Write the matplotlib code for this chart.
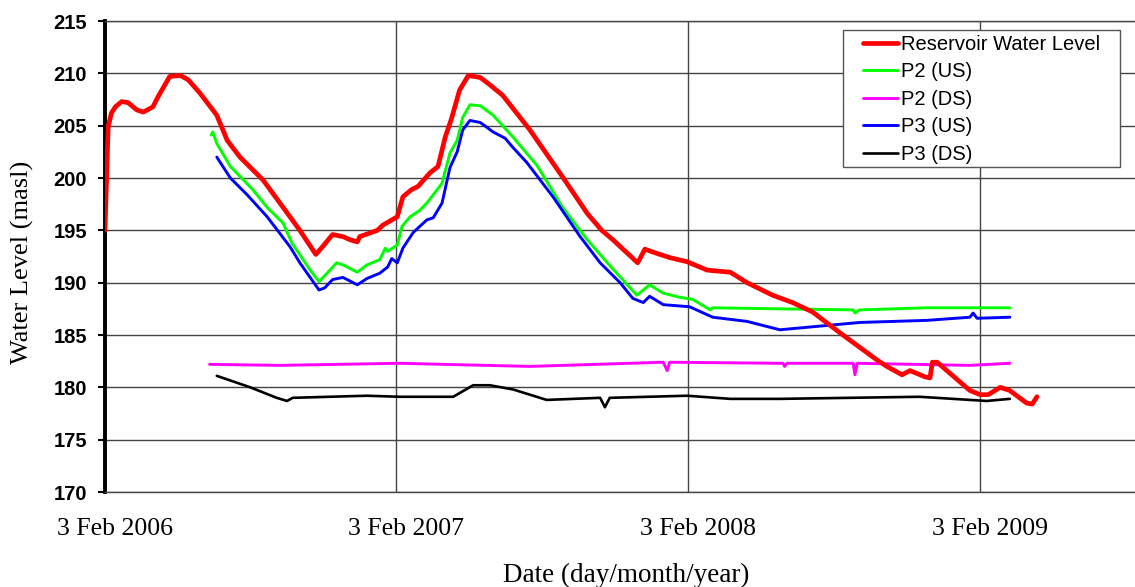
import pandas as pd
import matplotlib
matplotlib.use("Agg")
import matplotlib.pyplot as plt
import matplotlib.transforms as mtransforms
from matplotlib.patches import Rectangle

START_DATE = "2006-02-03"

# days after 3 Feb 2006 and levels (masl)
reservoir_days = [0, 2, 4, 8, 13, 21, 29, 40, 48, 60, 66, 81, 94, 104, 119, 140, 153, 169,
                  198, 223, 244, 264, 272, 285, 298, 307, 316, 319, 341, 348, 366, 373, 384,
                  392, 407, 417, 426, 434, 444, 455, 470, 482, 498, 532, 573, 604, 622, 636,
                  667, 676, 691, 707, 729, 754, 783, 804, 836, 861, 886, 924, 967, 979, 998,
                  1008, 1027, 1033, 1036, 1042, 1083, 1096, 1106, 1121, 1133, 1154, 1161, 1167]
reservoir_level = [195.0, 200.1, 204.9, 206.2, 206.8, 207.3, 207.2, 206.5, 206.3, 206.8, 207.7,
                   209.7, 209.8, 209.4, 208.1, 206.0, 203.6, 202.0, 199.8, 197.2, 195.0, 192.7,
                   193.4, 194.6, 194.4, 194.1, 193.9, 194.4, 195.0, 195.5, 196.3, 198.2, 198.9,
                   199.2, 200.5, 201.1, 203.9, 205.7, 208.4, 209.8, 209.6, 208.9, 207.9, 204.6,
                   200.1, 196.6, 195.0, 194.1, 191.9, 193.2, 192.8, 192.4, 192.0, 191.2, 191.0,
                   190.0, 188.8, 188.1, 187.2, 185.0, 182.6, 182.0, 181.2, 181.6, 181.0, 180.9,
                   182.4, 182.4, 179.7, 179.3, 179.3, 180.0, 179.7, 178.5, 178.4, 179.1]

p2_us_days = [133, 135, 140, 157, 185, 203, 223, 234, 257, 268, 278, 290, 298, 316, 328, 344,
              351, 354, 366, 372, 382, 394, 404, 422, 432, 441, 448, 457, 470, 486, 511, 541,
              573, 604, 629, 666, 674, 682, 699, 720, 736, 758, 761, 845, 937, 939, 945, 1029, 1133]
p2_us_level = [204.1, 204.4, 203.3, 201.1, 198.9, 197.2, 195.7, 193.8, 191.2, 190.1, 190.9,
               191.9, 191.7, 191.0, 191.7, 192.2, 193.3, 193.0, 193.6, 195.4, 196.3, 196.9,
               197.7, 199.5, 202.4, 203.6, 205.8, 207.0, 206.9, 206.0, 203.9, 201.2, 197.2,
               194.1, 191.9, 188.8, 189.3, 189.8, 189.0, 188.6, 188.4, 187.4, 187.6, 187.5,
               187.4, 187.1, 187.4, 187.6, 187.6]

p2_ds_days = [131, 219, 369, 532, 699, 704, 707, 845, 849, 851, 854, 937, 939, 942, 1083, 1133]
p2_ds_level = [182.2, 182.1, 182.3, 182.0, 182.4, 181.6, 182.4, 182.3, 182.3, 182.0, 182.3,
               182.3, 181.2, 182.3, 182.1, 182.3]

p3_us_days = [140, 157, 178, 203, 219, 232, 244, 268, 275, 285, 298, 316, 328, 344, 354, 359,
              366, 373, 386, 403, 411, 422, 432, 441, 448, 457, 470, 486, 501, 511, 528, 561,
              595, 620, 645, 661, 674, 682, 699, 732, 761, 804, 845, 945, 1029, 1083, 1087,
              1092, 1133]
p3_us_level = [202.0, 200.0, 198.4, 196.3, 194.7, 193.4, 191.9, 189.3, 189.5, 190.3, 190.5,
               189.8, 190.4, 190.9, 191.5, 192.3, 191.9, 193.3, 194.8, 196.0, 196.2, 197.6,
               201.0, 202.5, 204.6, 205.5, 205.3, 204.4, 203.8, 202.9, 201.5, 198.2, 194.4,
               191.9, 190.0, 188.5, 188.1, 188.7, 187.9, 187.7, 186.7, 186.3, 185.5, 186.2,
               186.4, 186.7, 187.1, 186.6, 186.7]

p3_ds_days = [140, 182, 215, 228, 235, 328, 369, 436, 461, 482, 511, 553, 620, 626, 632, 729,
              783, 845, 1020, 1104, 1133]
p3_ds_level = [181.1, 180.0, 179.0, 178.7, 179.0, 179.2, 179.1, 179.1, 180.2, 180.2, 179.8,
               178.8, 179.0, 178.1, 179.0, 179.2, 178.9, 178.9, 179.1, 178.7, 178.9]

year_ticks = ["2006-02-03", "2007-02-03", "2008-02-03", "2009-02-03"]
year_tick_labels = ["3 Feb 2006", "3 Feb 2007", "3 Feb 2008", "3 Feb 2009"]
level_ticks = [170, 175, 180, 185, 190, 195, 200, 205, 210, 215]

SERIES = [
    ("Reservoir Water Level", reservoir_days, reservoir_level, "#ff0000", 3.4, 5),
    ("P2 (US)", p2_us_days, p2_us_level, "#00ff00", 2.1, 3),
    ("P2 (DS)", p2_ds_days, p2_ds_level, "#ff00ff", 2.1, 3),
    ("P3 (US)", p3_us_days, p3_us_level, "#0000ff", 2.1, 3),
    ("P3 (DS)", p3_ds_days, p3_ds_level, "#000000", 1.9, 3),
]


def to_dates(days):
    return pd.Timestamp(START_DATE) + pd.to_timedelta(days, unit="D")


def plot_levels(plot_path):
    fig = plt.figure(figsize=(11.35, 5.87), dpi=100)
    # the plot runs on past the right edge of the picture, up to Feb 2010
    ax = fig.add_axes([0.0925, 0.1618, 1.028, 0.8024])

    for label, days, level, color, lw, z in SERIES:
        ax.plot(to_dates(days), level, color=color, lw=lw, label=label, zorder=z,
                solid_capstyle="round", solid_joinstyle="round")

    ax.set_xlim(pd.Timestamp("2006-02-03"), pd.Timestamp("2010-02-03"))
    ax.set_ylim(170, 215)
    ax.set_yticks(level_ticks)
    ax.set_xticks(pd.to_datetime(year_ticks))
    ax.set_xticklabels(year_tick_labels, family="Liberation Serif", fontsize=18.5)
    ax.set_yticklabels([str(v) for v in level_ticks], family="Liberation Sans",
                       fontweight="bold", fontsize=14.5)

    ax.tick_params(axis="x", length=0, pad=19)
    ax.tick_params(axis="y", direction="out", length=5, width=1.5, pad=8)
    ax.grid(True, color="#444444", lw=1.0)
    ax.set_axisbelow(True)

    # date labels sit a little right of their gridlines (after tick_params, which resets them)
    shift = mtransforms.ScaledTranslation(10 / 100, 0, fig.dpi_scale_trans)
    for tick in ax.xaxis.get_major_ticks():
        tick.label1.set_transform(tick.label1.get_transform() + shift)

    ax.spines["left"].set_linewidth(2.8)
    ax.spines["left"].set_color("black")
    for side in ["top", "bottom", "right"]:
        ax.spines[side].set_color("#444444")
        ax.spines[side].set_linewidth(1.0)

    fig.text(626 / 1135, 1 - 575 / 587, "Date (day/month/year)", ha="center", va="center",
             family="Liberation Serif", fontsize=19.5)
    fig.text(22 / 1135, 1 - 262 / 587, "Water Level (masl)", ha="center", va="center",
             rotation=90, family="Liberation Serif", fontsize=19)

    # legend box drawn by hand: wide side padding, tight top and bottom
    box = Rectangle((843 / 1135, 1 - 167 / 587), 277 / 1135, 137 / 587,
                    transform=fig.transFigure, facecolor="white", edgecolor="#555555",
                    lw=1.0, zorder=10)
    fig.patches.append(box)
    leg = fig.legend(loc="upper left", bbox_to_anchor=(863 / 1135, 1 - 35 / 587),
                     prop={"family": "Liberation Sans", "size": 14.5},
                     frameon=False, borderpad=0, labelspacing=0.42,
                     handlelength=1.75, handletextpad=0.15, borderaxespad=0)
    leg.set_zorder(11)

    fig.savefig(plot_path, dpi=100)


def main():
    plot_levels("out.png")


if __name__ == "__main__":
    main()
